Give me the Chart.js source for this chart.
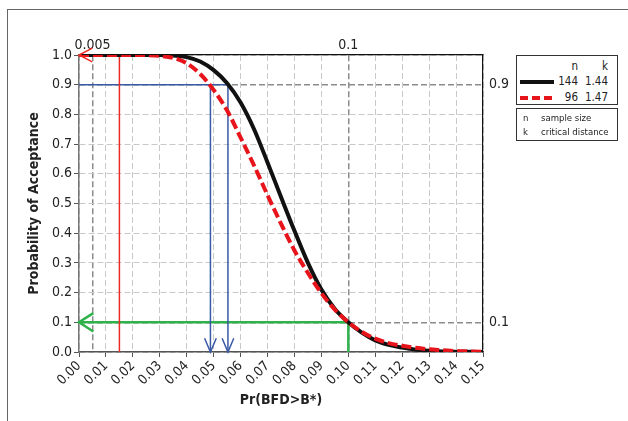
<!DOCTYPE html>
<html>
<head>
<meta charset="utf-8">
<script src="https://cdn.jsdelivr.net/npm/chart.js@4.4.1/dist/chart.umd.min.js"></script>
<style>
  body { margin: 0; background: #fff; font-family: "DejaVu Sans Condensed", "DejaVu Sans", sans-serif; color: #222; }
  #wrap { position: relative; width: 628px; height: 421px; overflow: hidden; }
  #frame { position: absolute; left: 7px; top: 9px; width: 640px; height: 430px; border-top: 1px solid #666; border-left: 1px solid #666; }
  canvas { position: absolute; left: 0; top: 0; }
  .box { position: absolute; border: 1px solid #333; background: #fff; box-sizing: border-box; }
  .box span { position: absolute; white-space: nowrap; line-height: 14px; }
  .num { font-size: 11.5px; text-align: right; }
  .key { font-size: 9.5px; }
  .sample { position: absolute; height: 4px; }
</style>
</head>
<body>
<div id="wrap">
  <div id="frame"></div>
  <canvas id="oc-chart" width="628" height="421"></canvas>

  <!-- legend: sample plans -->
  <div class="box" style="left:516px; top:55px; width:102px; height:50px;">
    <span class="num" style="left:40px; width:21px; top:3px;">n</span>
    <span class="num" style="left:62px; width:29px; top:3px;">k</span>
    <div class="sample" style="left:3px; top:24px; width:34px; background:#111;"></div>
    <span class="num" style="left:40px; width:21px; top:18px;">144</span>
    <span class="num" style="left:62px; width:29px; top:18px;">1.44</span>
    <div class="sample" style="left:3px; top:40px; width:35px; background:repeating-linear-gradient(90deg, #e8141c 0 8px, transparent 8px 12px);"></div>
    <span class="num" style="left:40px; width:21px; top:34px;">96</span>
    <span class="num" style="left:62px; width:29px; top:34px;">1.47</span>
  </div>
  <div class="box" style="left:516px; top:108px; width:102px; height:33px;">
    <span class="key" style="left:6px; top:2px;">n</span>
    <span class="key" style="left:24px; top:2px;">sample size</span>
    <span class="key" style="left:6px; top:16px;">k</span>
    <span class="key" style="left:24px; top:16px;">critical distance</span>
  </div>
</div>

<script>
// OC curves: probability of acceptance vs Pr(BFD>B*)

const pValues = [0.000, 0.005, 0.010, 0.015, 0.020, 0.025, 0.030, 0.035, 0.040, 0.045,
  0.050, 0.055, 0.060, 0.065, 0.070, 0.075, 0.080, 0.085, 0.090, 0.095,
  0.100, 0.105, 0.110, 0.115, 0.120, 0.125, 0.130, 0.135, 0.140, 0.145, 0.150];

// n = 144, k = 1.44
const paN144 = [1, 1, 1, 1, 1, 1, 1, 0.998, 0.993, 0.978,
  0.949, 0.905, 0.84, 0.75, 0.638, 0.522, 0.408, 0.3, 0.21, 0.145,
  0.1, 0.065, 0.039, 0.024, 0.015, 0.008, 0.004, 0.002, 0.001, 0.0005, 0.0002];

// n = 96, k = 1.47
const paN96 = [1, 1, 1, 1, 1, 0.9995, 0.997, 0.99, 0.972, 0.936,
  0.882, 0.813, 0.722, 0.628, 0.528, 0.432, 0.342, 0.266, 0.198, 0.143,
  0.1, 0.068, 0.045, 0.03, 0.021, 0.014, 0.009, 0.006, 0.003, 0.002, 0.001];

const xTickValues = [0, 0.01, 0.02, 0.03, 0.04, 0.05, 0.06, 0.07, 0.08, 0.09, 0.1, 0.11, 0.12, 0.13, 0.14, 0.15];
const yTickValues = [0, 0.1, 0.2, 0.3, 0.4, 0.5, 0.6, 0.7, 0.8, 0.9, 1.0];
const topTickValues = [0.005, 0.1];
const rightTickValues = [0.9, 0.1];

// guide lines (x, y)
const redGuideX = [0.015, 0.015, 0];
const redGuideY = [0, 1, 1];
const blueGuideX = [0, 0.0553, 0.0553];
const blueGuideY = [0.9, 0.9, 0];
const blueGuide2X = [0.0488, 0.0488];
const blueGuide2Y = [0.9, 0];
const greenGuideX = [0.1, 0.1, 0];
const greenGuideY = [0, 0.1, 0.1];

const toPoints = (xs, ys) => xs.map((x, i) => ({ x: x, y: ys[i] }));
const fixTicks = (values) => (scale) => {
  scale.ticks = values.map((v) => ({ value: v }));
};

const FONT = "'DejaVu Sans Condensed', 'DejaVu Sans', sans-serif";
const LIGHT_GRID = "#c8c8c8";

// open V arrowheads at the last point of guide lines
const arrowHeads = {
  id: "arrowHeads",
  afterDatasetsDraw(chart) {
    const ctx = chart.ctx;
    const sx = chart.scales.x;
    const sy = chart.scales.y;
    chart.data.datasets.forEach((ds) => {
      if (!ds.arrowSize) return;
      const n = ds.data.length;
      const a = ds.data[n - 2];
      const b = ds.data[n - 1];
      const x1 = sx.getPixelForValue(a.x), y1 = sy.getPixelForValue(a.y);
      const x2 = sx.getPixelForValue(b.x), y2 = sy.getPixelForValue(b.y);
      const ang = Math.atan2(y2 - y1, x2 - x1);
      const len = ds.arrowSize;
      const spread = ds.arrowSpread;
      ctx.save();
      ctx.strokeStyle = ds.borderColor;
      ctx.lineWidth = ds.borderWidth;
      ctx.lineJoin = "miter";
      ctx.beginPath();
      ctx.moveTo(x2 - len * Math.cos(ang - spread), y2 - len * Math.sin(ang - spread));
      ctx.lineTo(x2, y2);
      ctx.lineTo(x2 - len * Math.cos(ang + spread), y2 - len * Math.sin(ang + spread));
      ctx.stroke();
      ctx.restore();
    });
  },
};

new Chart(document.getElementById("oc-chart"), {
  type: "line",
  data: {
    datasets: [
      {
        label: "n=96 k=1.47",
        data: toPoints(pValues, paN96),
        borderColor: "#e8141c",
        borderWidth: 4,
        borderDash: [10, 4],
        pointRadius: 0,
        cubicInterpolationMode: "monotone",
        order: 0,
      },
      {
        label: "n=144 k=1.44",
        data: toPoints(pValues, paN144),
        borderColor: "#111",
        borderWidth: 4,
        pointRadius: 0,
        cubicInterpolationMode: "monotone",
        order: 1,
      },
      {
        data: toPoints(redGuideX, redGuideY),
        borderColor: "#ee2a24",
        borderWidth: 1.5,
        pointRadius: 0,
        tension: 0,
        order: 2,
        arrowSize: 15,
        arrowSpread: 0.48,
      },
      {
        data: toPoints(blueGuideX, blueGuideY),
        borderColor: "#3b5aa6",
        borderWidth: 1.5,
        pointRadius: 0,
        tension: 0,
        order: 3,
        arrowSize: 15,
        arrowSpread: 0.4,
      },
      {
        data: toPoints(blueGuide2X, blueGuide2Y),
        borderColor: "#3b5aa6",
        borderWidth: 1.5,
        pointRadius: 0,
        tension: 0,
        order: 3,
        arrowSize: 15,
        arrowSpread: 0.4,
      },
      {
        data: toPoints(greenGuideX, greenGuideY),
        borderColor: "#2eb34b",
        borderWidth: 2.5,
        pointRadius: 0,
        tension: 0,
        order: 4,
        arrowSize: 17,
        arrowSpread: 0.57,
      },
    ],
  },
  options: {
    responsive: false,
    animation: false,
    layout: { padding: 0 },
    plugins: { legend: { display: false }, tooltip: { enabled: false } },
    scales: {
      x: {
        type: "linear",
        position: "bottom",
        min: 0,
        max: 0.15,
        afterBuildTicks: fixTicks(xTickValues),
        afterFit: (scale) => { scale.height = 69; },
        ticks: {
          color: "#222",
          font: { family: FONT, size: 13.5 },
          autoSkip: false,
          maxRotation: 45,
          minRotation: 45,
          padding: 1,
          callback: (v) => Number(v).toFixed(2),
        },
        grid: {
          color: (c) => (c.tick && topTickValues.includes(c.tick.value) ? "rgba(0,0,0,0)" : LIGHT_GRID),
          tickColor: "#555",
          tickLength: 5,
        },
        border: { display: true, color: "#555", width: 1.5, dash: [6, 3] },
        title: {
          display: true,
          text: "Pr(BFD>B*)",
          color: "#222",
          font: { family: FONT, size: 14, weight: "bold" },
          padding: { top: 0, bottom: 12 },
        },
      },
      x2: {
        type: "linear",
        position: "top",
        min: 0,
        max: 0.15,
        afterBuildTicks: fixTicks(topTickValues),
        afterFit: (scale) => { scale.height = 55; },
        ticks: {
          color: "#222",
          font: { family: FONT, size: 14 },
          autoSkip: false,
          maxRotation: 0,
          padding: 1,
          callback: (v) => String(v),
        },
        grid: { color: "#8c8c8c", lineWidth: 1.5, drawTicks: false },
        border: { display: true, color: "#111", width: 1.2, dash: [6, 3] },
      },
      y: {
        type: "linear",
        position: "left",
        min: 0,
        max: 1,
        afterBuildTicks: fixTicks(yTickValues),
        afterFit: (scale) => { scale.width = 79; },
        ticks: {
          color: "#222",
          font: { family: FONT, size: 14 },
          autoSkip: false,
          padding: 2,
          callback: (v) => Number(v).toFixed(1),
        },
        grid: {
          color: (c) => (c.tick && rightTickValues.includes(c.tick.value) ? "rgba(0,0,0,0)" : LIGHT_GRID),
          tickColor: "#555",
          tickLength: 5,
        },
        border: { display: true, color: "#777", width: 1.5, dash: [6, 3] },
        title: {
          display: true,
          text: "Probability of Acceptance",
          color: "#222",
          font: { family: FONT, size: 14, weight: "bold" },
          padding: { top: 26, bottom: 0 },
        },
      },
      y2: {
        type: "linear",
        position: "right",
        min: 0,
        max: 1,
        afterBuildTicks: fixTicks(rightTickValues),
        afterFit: (scale) => { scale.width = 145; },
        ticks: {
          color: "#222",
          font: { family: FONT, size: 14 },
          autoSkip: false,
          padding: 6,
          callback: (v) => Number(v).toFixed(1),
        },
        grid: { color: "#8c8c8c", lineWidth: 1.5, drawTicks: false },
        border: { display: true, color: "#111", width: 1.2, dash: [6, 3] },
      },
    },
  },
  plugins: [arrowHeads],
});
</script>
</body>
</html>
